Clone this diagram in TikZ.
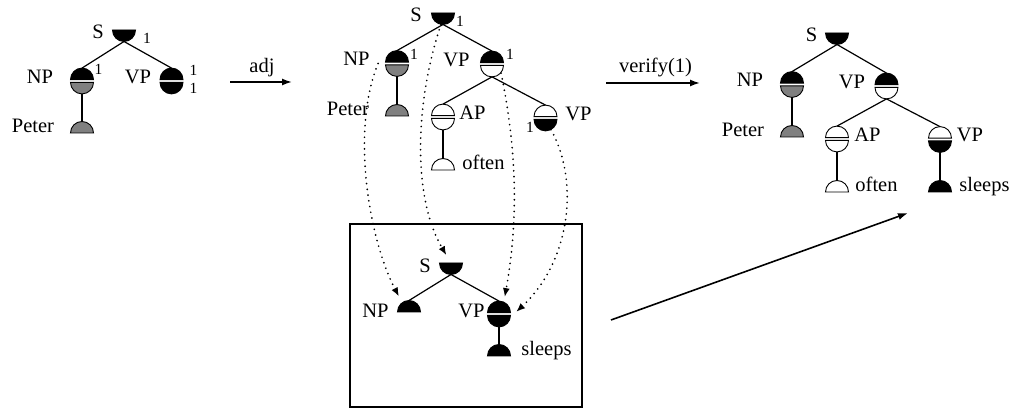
\documentclass[tikz,border=0pt]{standalone}
\usepackage{fontspec}
\setmainfont{Liberation Serif}
\usetikzlibrary{arrows.meta,calc}
\newcommand\TreeInner[5]{%
  \filldraw[nodeline,fill=#4] (#2-11.5,#3+1.4) arc[start angle=180,end angle=0,radius=11.5] -- cycle;
  \filldraw[nodeline,fill=#5] (#2-11.5,#3-1.4) arc[start angle=180,end angle=360,radius=11.5] -- cycle;
  \node[hub,minimum size=25.8pt] (#1) at (#2,#3) {};}
\newcommand\TreeRoot[4]{%
  \filldraw[nodeline,fill=#4] (#2-11.5,#3) arc[start angle=180,end angle=360,radius=11.5] -- cycle;
  \node[hub,minimum size=23pt] (#1) at (#2,#3) {};}
\newcommand\TreeLeaf[4]{%
  \filldraw[nodeline,fill=#4] (#2-11.5,#3) arc[start angle=180,end angle=0,radius=11.5] -- cycle;
  \node[hub,minimum size=23pt] (#1) at (#2,#3) {};}
\begin{document}
\begin{tikzpicture}[x=1pt,y=1pt,
  nodeline/.style={line width=0.9pt},
  hub/.style={circle,inner sep=0pt,outer sep=0pt,draw=none},
  edge/.style={line width=1.2pt},
  lab/.style={font=\fontsize{20.5}{24}\selectfont,inner sep=0pt},
  num/.style={font=\fontsize{15.5}{18}\selectfont,inner sep=0pt,anchor=base},
  dotarrow/.style={line width=1.9pt,line cap=round,dash pattern=on 0pt off 5.8pt,-{Latex[length=9pt,width=7pt]}},
  opar/.style={line width=1.6pt,-{Latex[length=10pt,width=7pt]}}]
\useasboundingbox (0,0) rectangle (1013,412);
% ---------- left tree
\TreeRoot{lS}{124}{382}{black}
\TreeInner{lNP}{82}{331}{black}{gray}
\TreeInner{lVP}{171.5}{331}{black}{black}
\TreeLeaf{lPe}{82}{279}{gray}
\draw[edge] (lS.south) -- (lNP.north);
\draw[edge] (lS.south) -- (lVP.north);
\draw[edge] (lNP.south) -- (lPe.north);
\node[lab,anchor=base] (tlS) at (98,373) {S};
\node[num] (nlS) at (147,368) {1};
\node[lab,anchor=mid] (tlNP) at (40,331) {NP};
\node[num] (nlNP) at (98.5,337) {1};
\node[lab,anchor=mid] (tlVP) at (138,331) {VP};
\node[num] (nlVPa) at (193.5,336) {1};
\node[num] (nlVPb) at (193.5,318) {1};
\node[lab,anchor=base] (tlPe) at (33,279) {Peter};
% ---------- middle tree
\TreeRoot{mS}{443}{399}{black}
\TreeInner{mNP}{397}{348.5}{black}{gray}
\TreeInner{mVP}{492}{348}{black}{white}
\TreeInner{mAP}{443}{295}{white}{white}
\TreeInner{mVPc}{545.5}{294}{white}{black}
\TreeLeaf{mPe}{397}{296}{gray}
\TreeLeaf{mOf}{443}{242}{white}
\draw[edge] (mS.south) -- (mNP.north);
\draw[edge] (mS.south) -- (mVP.north);
\draw[edge] (mNP.south) -- (mPe.north);
\draw[edge] (mVP.south) -- (mAP.north);
\draw[edge] (mVP.south) -- (mVPc.north);
\draw[edge] (mAP.south) -- (mOf.north);
\node[lab,anchor=base] (tmS) at (416,390) {S};
\node[num] (nmS) at (460,385.5) {1};
\node[lab,anchor=mid] (tmNP) at (356.5,348.5) {NP};
\node[num] (nmNP) at (414,352) {1};
\node[lab,anchor=mid] (tmVP) at (456.5,348) {VP};
\node[num] (nmVP) at (510,352) {1};
\node[lab,anchor=base] (tmPe) at (348,296) {Peter};
\node[lab,anchor=mid] (tmAP) at (472.5,295) {AP};
\node[lab,anchor=base] (tmOf) at (483.5,242) {often};
\node[lab,anchor=mid] (tmVPc) at (578.5,294) {VP};
\node[num] (nmVPc) at (530,279) {1};
% ---------- right tree
\TreeRoot{rS}{837}{379}{black}
\TreeInner{rNP}{792}{327.5}{black}{gray}
\TreeInner{rVP}{886.5}{326}{black}{white}
\TreeInner{rAP}{837}{273}{white}{white}
\TreeInner{rVPc}{940}{272.5}{white}{black}
\TreeLeaf{rPe}{792}{275}{gray}
\TreeLeaf{rOf}{837}{220}{white}
\TreeLeaf{rSl}{940}{220}{black}
\draw[edge] (rS.south) -- (rNP.north);
\draw[edge] (rS.south) -- (rVP.north);
\draw[edge] (rNP.south) -- (rPe.north);
\draw[edge] (rVP.south) -- (rAP.north);
\draw[edge] (rVP.south) -- (rVPc.north);
\draw[edge] (rAP.south) -- (rOf.north);
\draw[edge] (rVPc.south) -- (rSl.north);
\node[lab,anchor=base] (trS) at (811.5,370) {S};
\node[lab,anchor=mid] (trNP) at (750,327.5) {NP};
\node[lab,anchor=mid] (trVP) at (852,326) {VP};
\node[lab,anchor=base] (trPe) at (743,275) {Peter};
\node[lab,anchor=mid] (trAP) at (867.5,273) {AP};
\node[lab,anchor=base] (trOf) at (876.5,220) {often};
\node[lab,anchor=mid] (trVPc) at (970,272.5) {VP};
\node[lab,anchor=base] (trSl) at (984.5,220) {sleeps};
% ---------- box
\draw[line width=1.1pt] (350,5) rectangle (582,188);
\TreeRoot{bS}{451}{149}{black}
\TreeLeaf{bNP}{409}{100}{black}
\TreeInner{bVP}{499}{98}{black}{black}
\TreeLeaf{bSl}{499}{56}{black}
\draw[edge] (bS.south) -- (bNP.north);
\draw[edge] (bS.south) -- (bVP.north);
\draw[edge] (bVP.south) -- (bSl.north);
\node[lab,anchor=base] (tbS) at (425,139) {S};
\node[lab,anchor=mid] (tbNP) at (375.5,97) {NP};
\node[lab,anchor=mid] (tbVP) at (471.5,97) {VP};
\node[lab,anchor=base] (tbSl) at (546.5,56) {sleeps};
% ---------- operation arrows
\coordinate (a1s) at (230,330);
\coordinate (a1e) at (292,330);
\draw[opar] (a1s) -- (a1e);
\node[lab,anchor=base] (tadj) at (262,339) {adj};
\coordinate (a2s) at (606,329);
\coordinate (a2e) at (700,329);
\draw[opar] (a2s) -- (a2e);
\node[lab,anchor=base] (tver) at (655.5,339) {verify(1)};
\coordinate (a3s) at (611,92);
\coordinate (a3e) at (908,199);
\draw[opar] (a3s) -- (a3e);
% ---------- dotted mapping arrows
\draw[dotarrow,shorten >=7pt] ($(mNP.west)+(-6,0)$) .. controls (350,280) and (370,170) .. (bNP.126);
\draw[dotarrow,shorten >=9pt] (mS.-100) .. controls (415,310) and (412,215) .. (bS.center);
\draw[dotarrow,shorten >=5pt] (mVP.-45) .. controls (515,270) and (520,200) .. (bVP.68);
\draw[dotarrow,shorten >=6pt] (mVPc.-65) .. controls (580,230) and (570,150) .. (bVP.-9);
\end{tikzpicture}
\end{document}
